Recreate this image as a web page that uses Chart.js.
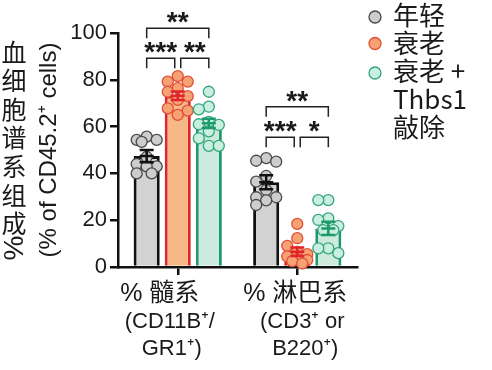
<!DOCTYPE html>
<html>
<head>
<meta charset="utf-8">
<script src="https://cdn.jsdelivr.net/npm/chart.js@4.4.1/dist/chart.umd.min.js"></script>
<style>
  html, body { margin: 0; padding: 0; background: #fff; }
  #wrap { width: 492px; height: 370px; }
</style>
</head>
<body>
<div id="wrap"><canvas id="c" width="492" height="370"></canvas></div>
<script>
// categories (x axis), one label per line
const categories = [
  ['% 髓系', '(CD11B⁺/', 'GR1⁺)'],
  ['% 淋巴系', '(CD3⁺ or', 'B220⁺)']
];
const groupLegend = [['年轻'], ['衰老'], ['衰老 +', 'Thbs1', '敲除']];
const yTicks = [0, 20, 40, 60, 80, 100];

// bar heights (mean) and SEM, per category
const youngMean = [47.4, 36.2];
const youngSem = [2.6, 3.0];
const agedMean = [73.2, 6.5];
const agedSem = [1.8, 1.8];
const koMean = [61.4, 16.5];
const koSem = [2.0, 2.8];

// individual mice, per category
const youngPoints = [
  [55.7, 54.3, 54.3, 53.5, 47, 44, 43, 43, 40, 40],
  [46.5, 45.4, 45, 38.9, 36.5, 32.9, 29.8, 29.8, 28.5, 26.5]
];
const agedPoints = [
  [81.6, 79.2, 79.2, 76.4, 74.9, 73, 71.4, 67.8, 66.8, 65],
  [18.4, 12.3, 9, 6.5, 5.5, 4.5, 3.5, 3, 2.5, 1.5]
];
const koPoints = [
  [74.9, 68.5, 67.4, 62, 61, 60.7, 58, 55, 51.8, 51.8],
  [28.6, 28.6, 20.8, 20.1, 17.5, 15.8, 15.8, 8, 8, 5.9]
];

// significance: category, bar a, bar b, bracket level (y value), stars
const sigCat = [0, 0, 0, 1, 1, 1];
const sigFrom = [0, 1, 0, 0, 1, 0];
const sigTo = [1, 2, 2, 1, 2, 2];
const sigLevel = [89.2, 89.2, 102, 55.4, 55.4, 68.5];
const sigText = ['***', '**', '**', '***', '*', '**'];

const series = [
  { means: youngMean, sem: youngSem, pts: youngPoints,
    fill: '#d2d2d2', line: '#111111', ptFill: '#cdcdcd', ptLine: '#4a4a4a' },
  { means: agedMean, sem: agedSem, pts: agedPoints,
    fill: '#f6b887', line: '#e0262a', ptFill: '#f6a274', ptLine: '#e24f36' },
  { means: koMean, sem: koSem, pts: koPoints,
    fill: '#cdeadf', line: '#1f9a6e', ptFill: '#c9efe0', ptLine: '#35a47c' }
];

const TXT = '#1a1a1a';
const LAT = '"Liberation Sans", "Noto Sans", Arial, sans-serif';
const CJK = '"Noto Sans CJK SC", sans-serif';
const MIX = '"Liberation Sans", "Noto Sans CJK SC", sans-serif';

const overlay = {
  id: 'overlay',
  afterDatasetsDraw(chart) {
    const { ctx } = chart;
    const y = chart.scales.y;
    const R = 5.5;

    // scatter points (simple beeswarm) then error bars
    series.forEach((s, di) => {
      const meta = chart.getDatasetMeta(di);
      meta.data.forEach((bar, ci) => {
        const placed = [];
        s.pts[ci].forEach(v => {
          const py = y.getPixelForValue(v);
          let best = null, bestD = -1;
          for (const k of [0, -1, 1, -0.5, 0.5]) {
            const px = bar.x + k * 10;
            let d = Infinity;
            placed.forEach(p => { d = Math.min(d, Math.hypot(p[0] - px, p[1] - py)); });
            if (d >= 2 * R) { best = px; break; }
            if (d > bestD) { bestD = d; best = px; }
          }
          placed.push([best, py]);
        });
        ctx.save();
        ctx.lineWidth = 1.3;
        placed.forEach(p => {
          ctx.beginPath();
          ctx.arc(p[0], p[1], R, 0, Math.PI * 2);
          ctx.fillStyle = s.ptFill;
          ctx.fill();
          ctx.strokeStyle = s.ptLine;
          ctx.stroke();
        });
        // error bar
        const top = y.getPixelForValue(s.means[ci] + s.sem[ci]);
        const bot = y.getPixelForValue(s.means[ci] - s.sem[ci]);
        const mid = y.getPixelForValue(s.means[ci]);
        ctx.strokeStyle = s.line;
        ctx.lineWidth = 2.5;
        ctx.beginPath();
        ctx.moveTo(bar.x, top); ctx.lineTo(bar.x, bot);
        ctx.moveTo(bar.x - 7, top); ctx.lineTo(bar.x + 7, top);
        ctx.moveTo(bar.x - 7, bot); ctx.lineTo(bar.x + 7, bot);
        ctx.moveTo(bar.x - 7, mid); ctx.lineTo(bar.x + 7, mid);
        ctx.stroke();
        ctx.restore();
      });
    });

    // significance brackets
    ctx.save();
    ctx.strokeStyle = '#222';
    ctx.lineWidth = 1.5;
    ctx.fillStyle = TXT;
    ctx.font = 'bold 28px ' + LAT;
    ctx.textAlign = 'center';
    ctx.textBaseline = 'alphabetic';
    sigCat.forEach((c, i) => {
      let xa = chart.getDatasetMeta(sigFrom[i]).data[c].x;
      let xb = chart.getDatasetMeta(sigTo[i]).data[c].x;
      if (sigFrom[i] === 1) xa += 3;
      if (sigTo[i] === 1) xb -= 3;
      const yt = y.getPixelForValue(sigLevel[i]);
      ctx.beginPath();
      ctx.moveTo(xa, yt + 10); ctx.lineTo(xa, yt); ctx.lineTo(xb, yt); ctx.lineTo(xb, yt + 10);
      ctx.stroke();
      ctx.fillText(sigText[i], (xa + xb) / 2, yt + 3);
    });
    ctx.restore();
  },
  afterDraw(chart) {
    const { ctx } = chart;
    const x = chart.scales.x;
    ctx.save();
    ctx.fillStyle = TXT;
    ctx.textBaseline = 'middle';

    // x labels
    const shift = [[-18, -8, -6], [-2, 5, 8]];
    const lineY = [294, 322, 349];
    categories.forEach((lines, ci) => {
      const cx = x.getPixelForValue(ci);
      lines.forEach((t, li) => {
        ctx.textAlign = 'center';
        ctx.font = li === 0 ? '25px ' + MIX : '22px ' + LAT;
        ctx.fillText(t, cx + shift[ci][li], lineY[li]);
      });
    });

    // y title, upright CJK column + rotated %
    ctx.textAlign = 'center';
    ctx.font = '25px ' + CJK;
    Array.from('血细胞谱系组成').forEach((ch, i) => ctx.fillText(ch, 14, 52 + i * 28.6));
    ctx.save();
    ctx.translate(15, 248);
    ctx.rotate(-Math.PI / 2);
    ctx.font = '28px ' + LAT;
    ctx.fillText('%', 0, 0);
    ctx.restore();

    // legend
    const dotY = [17, 43.5, 73];
    const rows = [];
    groupLegend.forEach(g => g.forEach(t => rows.push(t)));
    series.forEach((s, i) => {
      ctx.beginPath();
      ctx.arc(375, dotY[i], 6, 0, Math.PI * 2);
      ctx.fillStyle = s.ptFill; ctx.fill();
      ctx.lineWidth = 1.3; ctx.strokeStyle = s.ptLine; ctx.stroke();
    });
    ctx.fillStyle = TXT;
    ctx.textAlign = 'left';
    ctx.font = '26px ' + CJK;
    rows.forEach((t, i) => ctx.fillText(t, 393, 15 + i * 28));
    ctx.restore();
  }
};

new Chart(document.getElementById('c'), {
  type: 'bar',
  data: {
    labels: categories.map(l => l.join(' ')),
    datasets: series.map((s, i) => ({
      label: groupLegend[i].join(' '),
      data: s.means,
      backgroundColor: s.fill,
      borderColor: s.line,
      borderWidth: 3,
      borderSkipped: 'start',
      categoryPercentage: 0.78,
      barPercentage: 0.84
    }))
  },
  options: {
    responsive: false,
    animation: false,
    layout: { padding: { left: 37, top: 33, right: 135, bottom: 0 } },
    plugins: { legend: { display: false }, tooltip: { enabled: false } },
    scales: {
      x: {
        z: 1,
        ticks: { display: false },
        grid: { display: true, drawOnChartArea: false, offset: false, drawTicks: true, tickLength: 8, color: '#111', lineWidth: 2.5 },
        border: { display: true, color: '#111', width: 2.5 },
        afterFit(scale) { scale.height = 103; }
      },
      y: {
        min: 0, max: 100,
        afterBuildTicks(scale) { scale.ticks = yTicks.map(v => ({ value: v })); },
        ticks: { color: TXT, font: { family: LAT, size: 22 }, padding: 3 },
        grid: { display: true, drawOnChartArea: false, drawTicks: true, tickLength: 8, color: '#111', lineWidth: 2.5 },
        border: { display: true, color: '#111', width: 2.5 },
        title: { display: true, text: '(% of CD45.2⁺ cells)', color: TXT, font: { family: LAT, size: 24, lineHeight: 1 }, padding: 0 },
        afterFit(scale) { scale.width = 81; }
      }
    }
  },
  plugins: [overlay]
});
</script>
</body>
</html>
